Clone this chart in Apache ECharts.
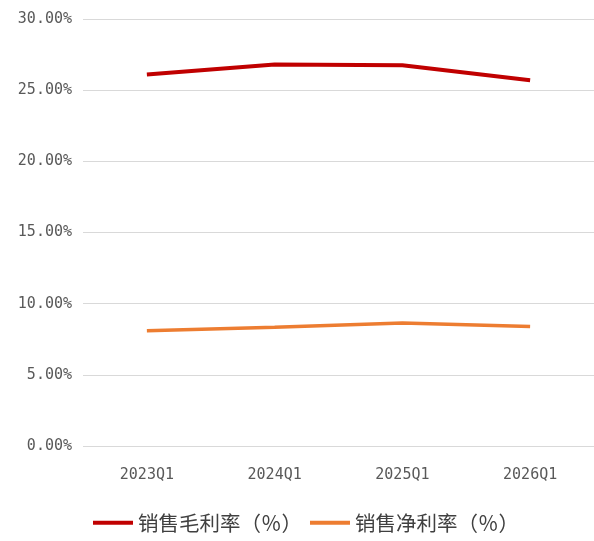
<!DOCTYPE html>
<html>
<head>
<meta charset="utf-8">
<script src="https://cdn.jsdelivr.net/npm/echarts@6/dist/echarts.min.js"></script>
<style>
  html, body { margin: 0; padding: 0; background: #fff; }
  #chart { width: 594px; height: 541px; }
</style>
</head>
<body>
<div id="chart"></div>
<script>
// Quarterly margins, in percent
const categories = ['2023Q1', '2024Q1', '2025Q1', '2026Q1'];
const grossMargin = [26.1, 26.8, 26.75, 25.7];
const netMargin = [8.1, 8.35, 8.65, 8.4];
const seriesNames = ['销售毛利率（％）', '销售净利率（％）'];

const chart = echarts.init(document.getElementById('chart'));
chart.setOption({
  animation: false,
  grid: { left: 83, right: 0, top: 19, bottom: 95 },
  legend: {
    bottom: 3,
    left: 88,
    itemWidth: 40,
    itemHeight: 4,
    itemGap: 8,
    icon: 'rect',
    textStyle: { fontSize: 20.5, color: '#404040', fontFamily: 'Noto Sans CJK SC' },
    data: seriesNames
  },
  xAxis: {
    type: 'category',
    data: categories,
    boundaryGap: true,
    axisLine: { show: false },
    axisTick: { show: false },
    axisLabel: { color: '#595959', fontSize: 15, fontFamily: 'DejaVu Sans Mono', margin: 22 }
  },
  yAxis: {
    type: 'value',
    min: 0,
    max: 30,
    interval: 5,
    axisLine: { show: false },
    axisTick: { show: false },
    splitLine: { lineStyle: { color: '#d9d9d9', width: 1 } },
    axisLabel: {
      color: '#595959',
      fontSize: 15,
      fontFamily: 'DejaVu Sans Mono',
      margin: 11,
      formatter: v => v.toFixed(2) + '%'
    }
  },
  series: [
    {
      name: seriesNames[0],
      type: 'line',
      data: grossMargin,
      symbol: 'none',
      lineStyle: { color: '#C00000', width: 4 },
      itemStyle: { color: '#C00000' }
    },
    {
      name: seriesNames[1],
      type: 'line',
      data: netMargin,
      symbol: 'none',
      lineStyle: { color: '#ED7D31', width: 3.5 },
      itemStyle: { color: '#ED7D31' }
    }
  ]
});
</script>
</body>
</html>
